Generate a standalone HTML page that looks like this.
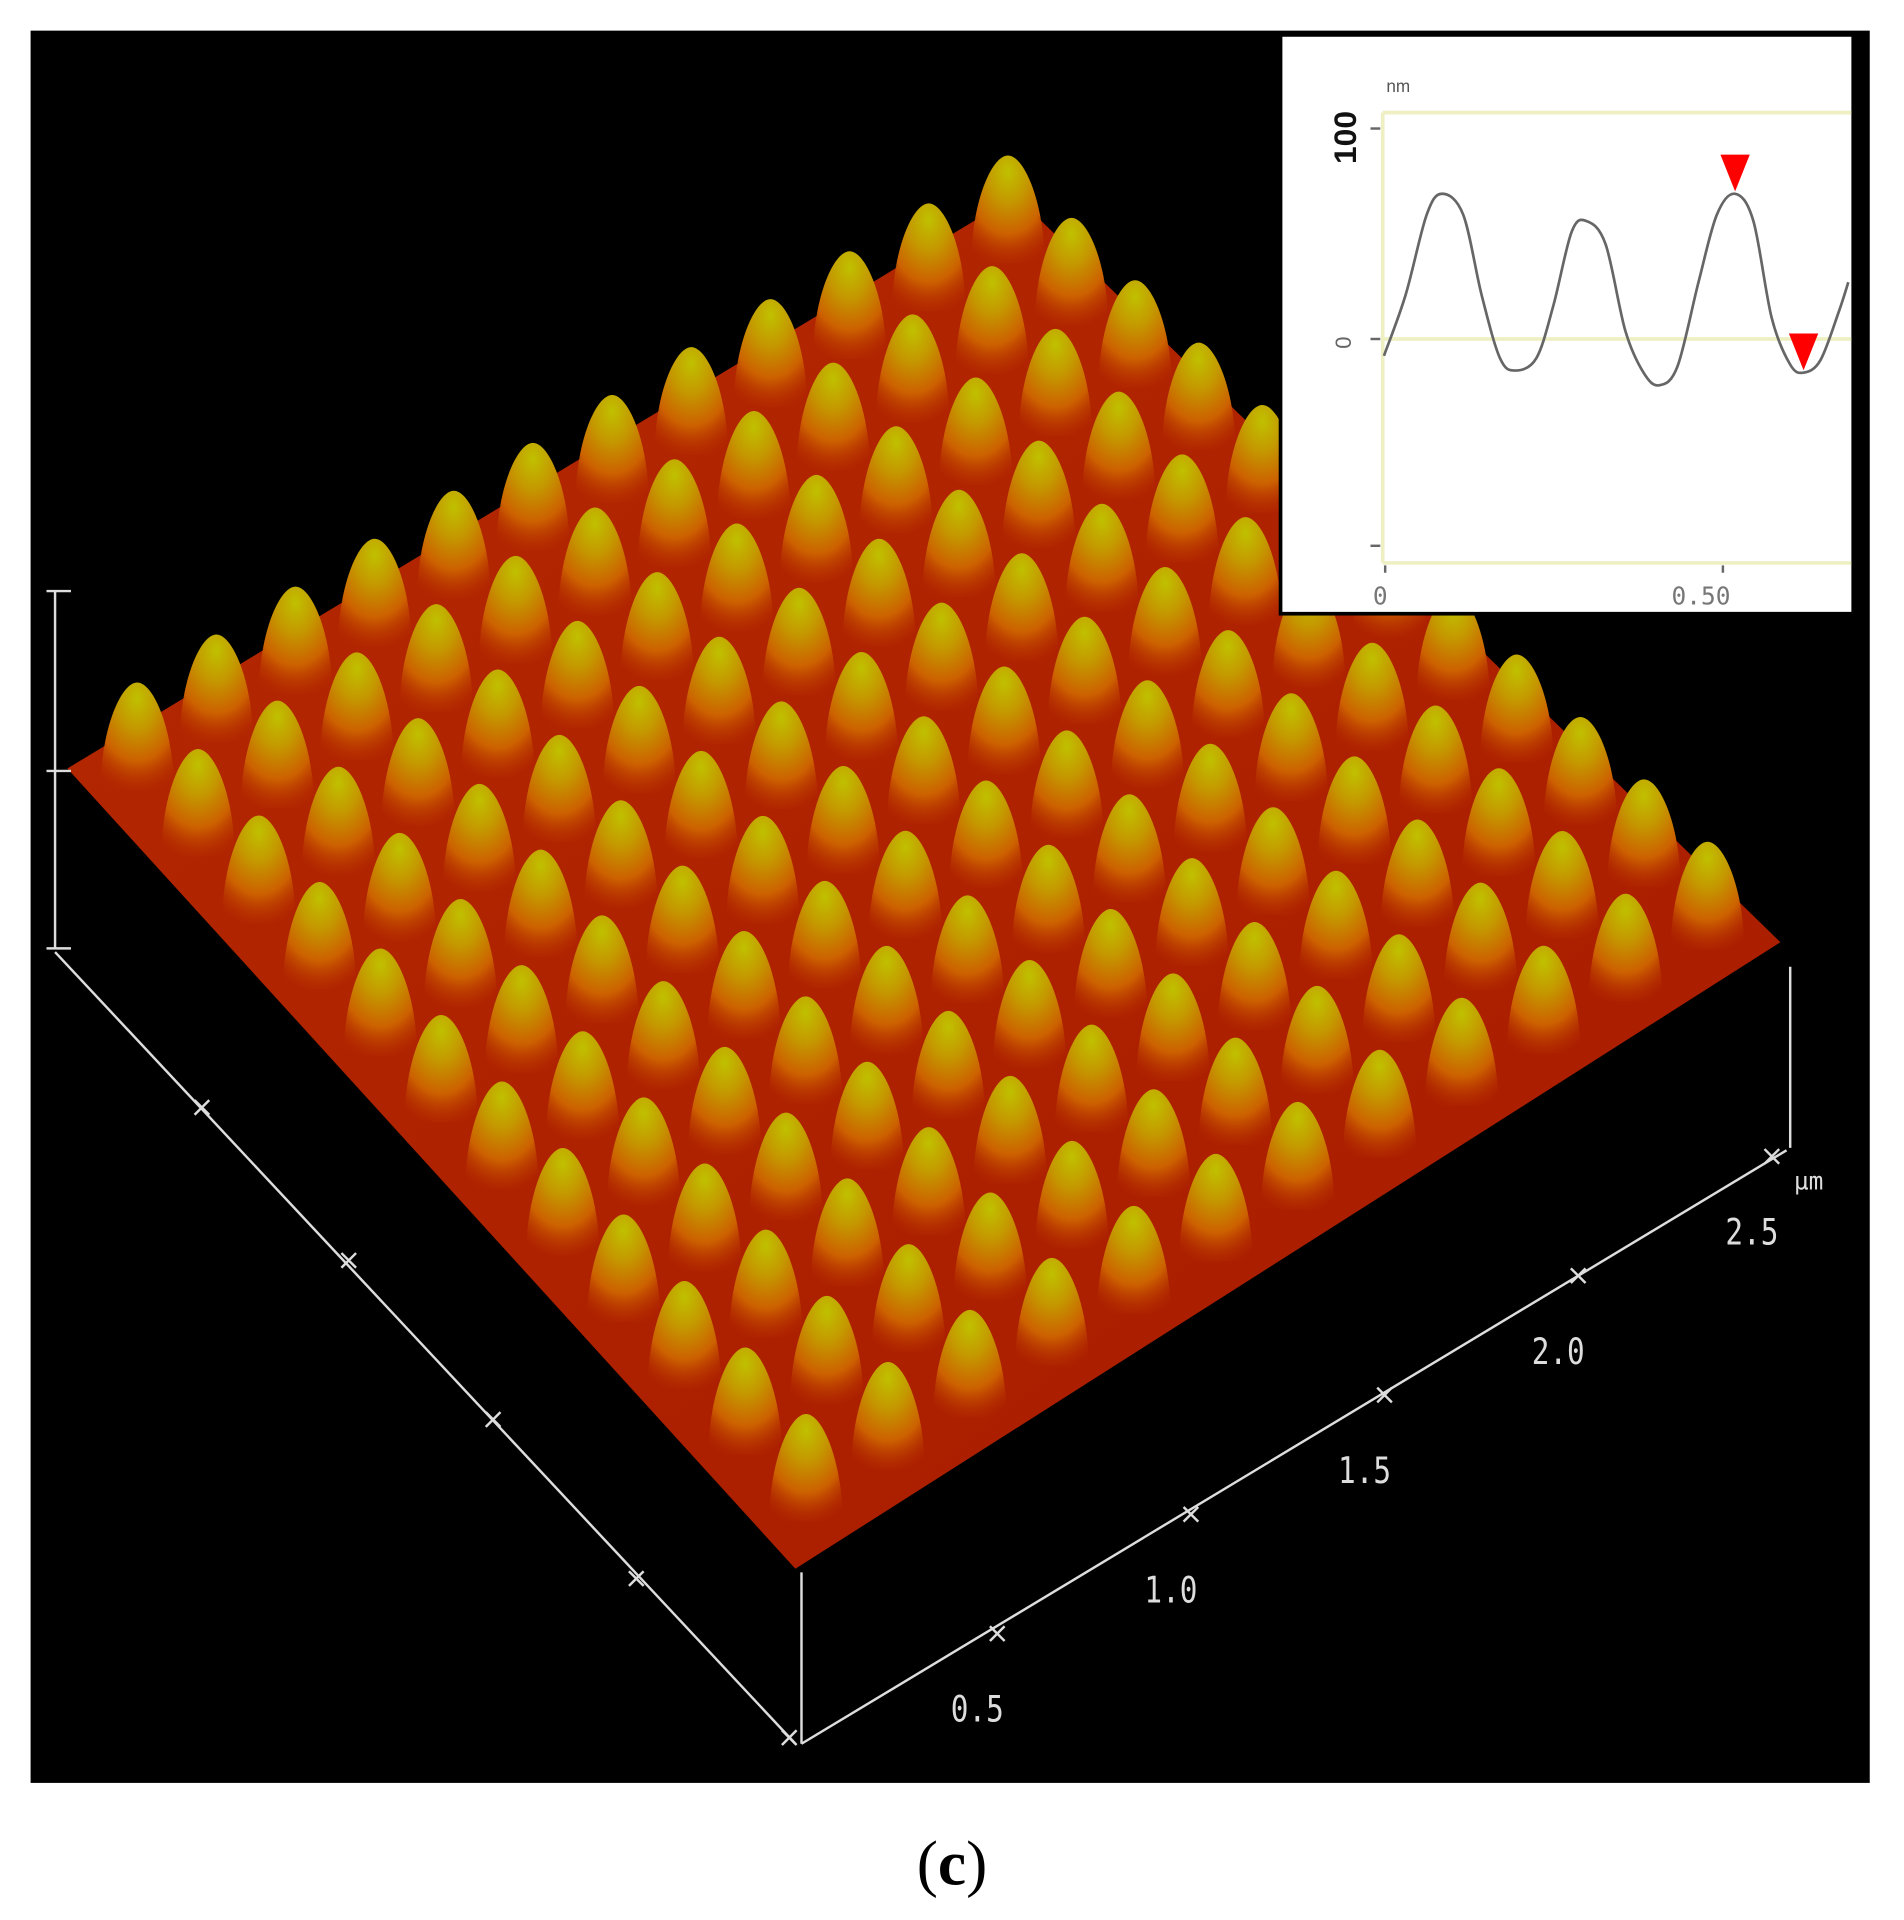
<!DOCTYPE html>
<html><head><meta charset="utf-8"><style>
html,body{margin:0;padding:0;background:#fff;}
svg{display:block;}
.ax{font-family:"DejaVu Sans Mono","Liberation Mono",monospace;fill:#ddd;font-size:20px;}
</style></head><body>
<svg id="fig" width="1904" height="1920" viewBox="0 0 1556 1569" xmlns="http://www.w3.org/2000/svg">
<defs>
<radialGradient id="bump" cx="0.5" cy="0.15" r="0.9">
<stop offset="0" stop-color="#c0c000"/>
<stop offset="0.3" stop-color="#c49a00"/>
<stop offset="0.65" stop-color="#cc6000"/>
<stop offset="1" stop-color="#b83000" stop-opacity="0"/>
</radialGradient>
<linearGradient id="base" x1="0" y1="0" x2="1" y2="1">
<stop offset="0" stop-color="#b42800"/><stop offset="1" stop-color="#a81c00"/>
</linearGradient>
</defs>
<rect x="25" y="25" width="1503" height="1432" fill="#000"/>
<g id="surface"></g>
<g stroke="#ddd" stroke-width="2" fill="none">
<line x1="45" y1="483" x2="45" y2="775"/>
<line x1="38" y1="483" x2="58" y2="483"/><line x1="38" y1="630" x2="58" y2="630"/><line x1="38" y1="775" x2="58" y2="775"/>
<line x1="45" y1="778" x2="650" y2="1425"/>
<line x1="655" y1="1425" x2="1460" y2="940"/>
<line x1="655" y1="1285" x2="655" y2="1425"/>
<line x1="1463" y1="790" x2="1463" y2="938"/>
</g>
<g id="ticks3d" stroke="#ddd" stroke-width="2"></g>
<g id="ticklabels"></g>
<text class="ax" x="1466" y="972" font-size="24">µm</text>
<g>
<rect x="1045" y="27" width="472" height="476" fill="#000"/>
<rect x="1048" y="30" width="465" height="470" fill="#fff"/>
<g stroke="#eef0c4" stroke-width="3">
<line x1="1130" y1="92" x2="1513" y2="92"/><line x1="1130" y1="277" x2="1513" y2="277"/>
<line x1="1130" y1="460" x2="1513" y2="460"/><line x1="1130" y1="92" x2="1130" y2="460"/>
</g>
<g stroke="#666" stroke-width="2">
<line x1="1120" y1="105" x2="1128" y2="105"/><line x1="1120" y1="277" x2="1128" y2="277"/><line x1="1120" y1="446" x2="1128" y2="446"/>
<line x1="1132" y1="462" x2="1132" y2="468"/><line x1="1408" y1="462" x2="1408" y2="468"/>
</g>
<text x="1133" y="75" font-family="Liberation Sans,sans-serif" font-size="14" fill="#555">nm</text>
<text x="0" y="0" transform="translate(1108,134) rotate(-90)" font-family="Liberation Sans,sans-serif" font-weight="bold" font-size="26" fill="#111">100</text>
<text x="0" y="0" transform="translate(1104,285) rotate(-90)" font-family="Liberation Sans,sans-serif" font-size="18" fill="#666">0</text>
<text x="1122" y="494" font-family="DejaVu Sans Mono,monospace" font-size="20" fill="#777">0</text>
<text x="1366" y="494" font-family="DejaVu Sans Mono,monospace" font-size="20" fill="#777">0.50</text>
<path id="profile" fill="none" stroke="#666" stroke-width="2.2"/>
<path id="mk1" fill="#f00"/>
<path id="mk2" fill="#f00"/>
</g>
<text x="778" y="1540" text-anchor="middle" font-family="Liberation Serif,serif" font-size="52" fill="#000">(<tspan font-weight="bold">c</tspan>)</text>
</svg>
<script>
const profileX = [0,0.032,0.063,0.086,0.117,0.144,0.171,0.194,0.225,0.25,0.277,0.299,0.327,0.356,0.383,0.406,0.433,0.464,0.491,0.518,0.545,0.572,0.599,0.619,0.644,0.671,0.685];
const profileNm = [-8,21,59,69,59,21,-9,-15,-9,16,51,56,45,4,-16,-22,-13,27,59,69,56,10,-12,-16,-10,13,27];
const markerX = [0.518,0.619];
const markerNm = [69,-16];
const axisTicks = ["0.5","1.0","1.5","2.0","2.5"];

const NS="http://www.w3.org/2000/svg";
function sx(v){return 1131+v*(1408-1131)/0.5;}
function sy(v){return 277-v*1.72;}
const pts=profileX.map((x,i)=>[sx(x),sy(profileNm[i])]);
let d="M"+pts[0][0]+","+pts[0][1];
for(let i=0;i<pts.length-1;i++){
 const p0=pts[Math.max(0,i-1)],p1=pts[i],p2=pts[i+1],p3=pts[Math.min(pts.length-1,i+2)];
 d+=" C"+(p1[0]+(p2[0]-p0[0])/6)+","+(p1[1]+(p2[1]-p0[1])/6)+" "+(p2[0]-(p3[0]-p1[0])/6)+","+(p2[1]-(p3[1]-p1[1])/6)+" "+p2[0]+","+p2[1];
}
document.getElementById('profile').setAttribute('d',d);
['mk1','mk2'].forEach((id,i)=>{
 const x=sx(markerX[i]),y=sy(markerNm[i]);
 document.getElementById(id).setAttribute('d',`M${x-12},${y-32}L${x+12},${y-32}L${x},${y-2}Z`);
});

const g=document.getElementById('surface');
const CL=[55,628],CT=[830,160],CR=[1455,770],CB=[650,1282];
function P(u,v){ // u: left->bottom (0..1), v: left->top (0..1)
 const a=[CL[0]+(CB[0]-CL[0])*u, CL[1]+(CB[1]-CL[1])*u];
 const b=[CT[0]+(CR[0]-CT[0])*u, CT[1]+(CR[1]-CT[1])*u];
 return [a[0]+(b[0]-a[0])*v, a[1]+(b[1]-a[1])*v];
}
const poly=document.createElementNS(NS,'polygon');
poly.setAttribute('points',[CL,CB,CR,CT].map(p=>p.join(',')).join(' '));
poly.setAttribute('fill','url(#base)');


g.appendChild(poly);
const bumps=[];
for(let i=0;i<12;i++)for(let j=0;j<12;j++){bumps.push(P((i+0.5)/12,(j+0.5)/12));}
bumps.sort((a,b)=>a[1]-b[1]);
bumps.forEach(p=>{
 const e=document.createElementNS(NS,'path');
 const x=p[0],y=p[1]+10,h=88,w=30;
 e.setAttribute('d',`M${x-w},${y} C${x-w},${y-h*0.55} ${x-w*0.45},${y-h} ${x},${y-h} C${x+w*0.45},${y-h} ${x+w},${y-h*0.55} ${x+w},${y} Z`);
 e.setAttribute('fill','url(#bump)');
 
 
 g.appendChild(e);
});
const tg=document.getElementById('ticks3d');
[[165,905],[285,1030],[403,1160],[520,1290],[645,1420]].forEach(t=>{
 const l=document.createElementNS(NS,'path');
 l.setAttribute('d',`M${t[0]-6},${t[1]-6}L${t[0]+6},${t[1]+6}M${t[0]-6},${t[1]+6}L${t[0]+6},${t[1]-6}`);
 
 
 tg.appendChild(l);
});
const lg=document.getElementById('ticklabels');
axisTicks.forEach((lab,k)=>{
 const tx=815+k*158.25,ty=1335-k*97.5;
 const l=document.createElementNS(NS,'path');
 l.setAttribute('d',`M${tx-6},${ty-6}L${tx+6},${ty+6}M${tx-6},${ty+6}L${tx+6},${ty-6}`);
 
 
 tg.appendChild(l);
 const t=document.createElementNS(NS,'text');
 t.setAttribute('class','ax');
 t.setAttribute('transform',`translate(${tx-38},${ty+72}) scale(1.2,1.5)`);
 t.setAttribute('font-size','24');
 t.textContent=lab;
 
 
 lg.appendChild(t);
});
</script>
</body></html>
